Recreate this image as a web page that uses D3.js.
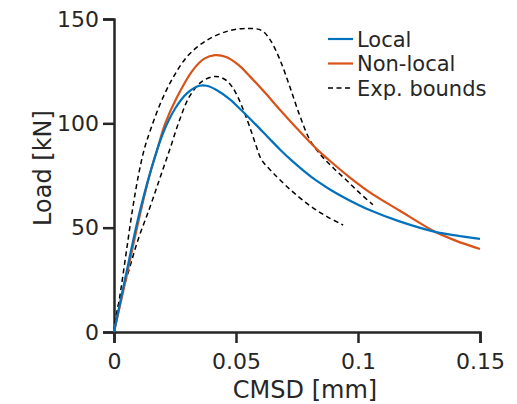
<!DOCTYPE html>
<html>
<head>
<meta charset="utf-8">
<script src="https://cdn.jsdelivr.net/npm/d3@7"></script>
<style>
  body { margin: 0; background: #fff; }
  svg { display: block; }
  text { font-family: "DejaVu Sans", Verdana, sans-serif; fill: #262626; }
  .axis path, .axis line { stroke: #262626; stroke-width: 2.5; }
  .axis text { font-size: 22px; }
</style>
</head>
<body>
<div id="chart"></div>
<script>
// CMSD [mm] / Load [kN]
const localX = [0, 0.005, 0.01, 0.015, 0.02, 0.025, 0.03, 0.035, 0.038, 0.042, 0.0475, 0.052, 0.058, 0.063, 0.068, 0.073, 0.078, 0.083, 0.0885, 0.095, 0.105, 0.117, 0.1316, 0.14, 0.15];
const localY = [0, 28, 55, 77, 95, 107, 114.5, 118, 118, 116, 111.5, 106.5, 99.5, 93.5, 87.5, 82, 77, 72.5, 68.3, 64, 58.3, 53, 48, 46.3, 44.6];

const nonlocalX = [0, 0.005, 0.01, 0.015, 0.0176, 0.021, 0.0258, 0.0324, 0.037, 0.0414, 0.046, 0.051, 0.0557, 0.062, 0.068, 0.075, 0.0832, 0.09, 0.0967, 0.105, 0.117, 0.1316, 0.14, 0.15];
const nonlocalY = [0, 26, 53, 77, 87, 100, 112.5, 125.6, 131, 132.7, 131.8, 128, 122.5, 114.5, 106.5, 97.5, 87.5, 80.5, 74, 66.8, 58.2, 48, 43.8, 39.8];

const upperX = [0, 0.0025, 0.005, 0.0075, 0.01, 0.0125, 0.015, 0.019, 0.024, 0.03, 0.038, 0.047, 0.055, 0.0605, 0.064, 0.068, 0.0721, 0.0762, 0.0803, 0.085, 0.09, 0.0955, 0.1008, 0.1061];
const upperY = [0, 18, 38, 58, 75, 88, 97, 109.5, 121.5, 132, 139.8, 144.3, 145.5, 144.5, 140, 130.5, 117.4, 103.5, 92, 84.5, 78.5, 72.5, 66.5, 61];

const lowerX = [0, 0.0016, 0.0057, 0.0098, 0.0148, 0.0189, 0.023, 0.027, 0.031, 0.036, 0.0414, 0.0455, 0.0484, 0.0508, 0.0535, 0.0563, 0.0583, 0.0605, 0.065, 0.072, 0.0803, 0.0873, 0.0939];
const lowerY = [0, 12, 28, 44, 60, 74, 88, 102, 113, 120, 122.5, 121, 117.5, 112.5, 105, 96, 89, 82.5, 76.5, 68.5, 60.5, 55.3, 51.3];

const xTicks = [0, 0.05, 0.1, 0.15];
const yTicks = [0, 50, 100, 150];
const legendNames = ["Local", "Non-local", "Exp. bounds"];

const W = 517, H = 404;
const svg = d3.select("#chart").append("svg").attr("width", W).attr("height", H);

const x = d3.scaleLinear().domain([0, 0.15]).range([114, 480]);
const y = d3.scaleLinear().domain([0, 150]).range([332, 19]);

const zip = (xs, ys) => xs.map((v, i) => ({x: v, y: ys[i]}));
const line = d3.line().x(d => x(d.x)).y(d => y(d.y)).curve(d3.curveCatmullRom.alpha(0.5));

// axes
svg.append("g").attr("class", "axis").attr("transform", "translate(0,332)")
  .call(d3.axisBottom(x).tickValues(xTicks).tickFormat(d => d === 0 ? "0" : String(d)).tickSize(11).tickPadding(10));
svg.append("g").attr("class", "axis").attr("transform", "translate(114,0)")
  .call(d3.axisLeft(y).tickValues(yTicks).tickSize(11).tickPadding(4));

// curves
const series = [
  {d: zip(upperX, upperY), color: "#000", w: 1.5, dash: "5,3.5"},
  {d: zip(lowerX, lowerY), color: "#000", w: 1.5, dash: "5,3.5"},
  {d: zip(nonlocalX, nonlocalY), color: "#D95319", w: 2.2, dash: null},
  {d: zip(localX, localY), color: "#0072BD", w: 2.2, dash: null}
];
series.forEach(s => {
  svg.append("path").datum(s.d).attr("d", line)
    .attr("fill", "none").attr("stroke", s.color).attr("stroke-width", s.w)
    .attr("stroke-dasharray", s.dash);
});

// axis labels
svg.append("text").attr("x", 305).attr("y", 398).attr("text-anchor", "middle")
  .style("font-size", "24px").text("CMSD [mm]");
svg.append("text").attr("transform", "translate(51,168) rotate(-90)").attr("text-anchor", "middle")
  .style("font-size", "24px").text("Load [kN]");

// legend
const legStyle = [
  {color: "#0072BD", w: 2.2, dash: null},
  {color: "#D95319", w: 2.2, dash: null},
  {color: "#000", w: 1.5, dash: "5,3.5"}
];
legendNames.forEach((name, i) => {
  const ly = 39 + i * 24.5;
  svg.append("line").attr("x1", 328).attr("x2", 353).attr("y1", ly).attr("y2", ly)
    .attr("stroke", legStyle[i].color).attr("stroke-width", legStyle[i].w)
    .attr("stroke-dasharray", legStyle[i].dash);
  svg.append("text").attr("x", 357).attr("y", ly + 7.5).style("font-size", "21px").text(name);
});
</script>
</body>
</html>
